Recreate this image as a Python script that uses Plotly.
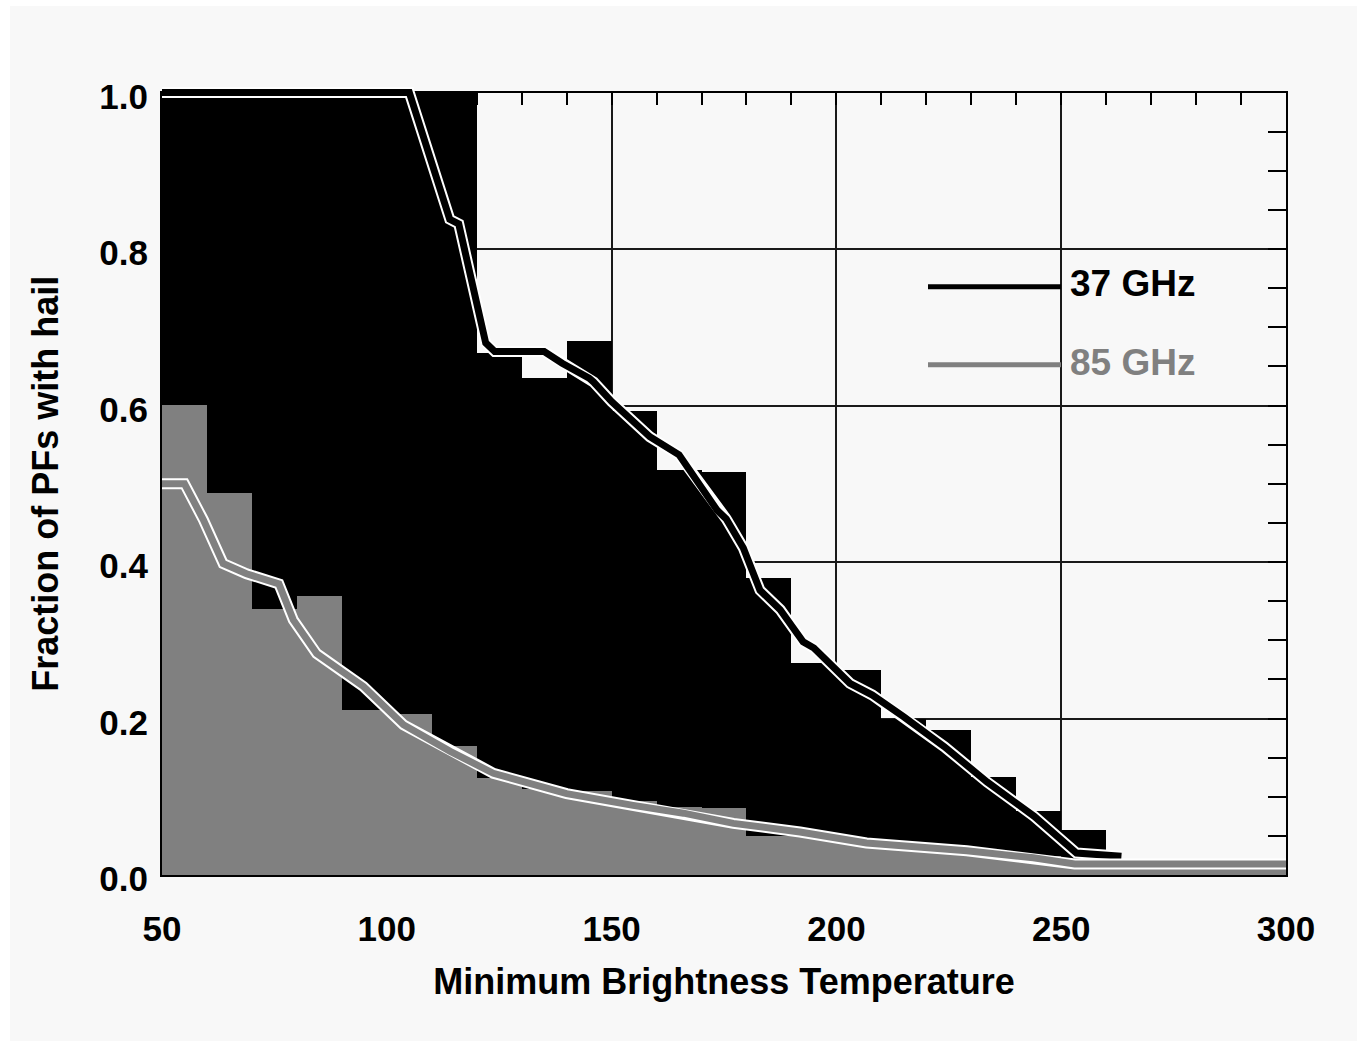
import plotly.graph_objects as go

# ---------------- data ----------------
bin_start = [50, 60, 70, 80, 90, 100, 110, 120, 130, 140, 150, 160, 170,
             180, 190, 200, 210, 220, 230, 240, 250, 260, 270, 280, 290]
bin_width = 10

hail_37 = [1.0, 1.0, 1.0, 1.0, 1.0, 1.0, 1.0, 0.668, 0.636, 0.683, 0.594, 0.518,
           0.516, 0.380, 0.271, 0.262, 0.200, 0.186, 0.126, 0.082, 0.058,
           0.0, 0.0, 0.0, 0.0]
hail_85 = [0.601, 0.489, 0.340, 0.357, 0.211, 0.207, 0.165, 0.124, 0.110, 0.108,
           0.095, 0.088, 0.086, 0.051, 0.050, 0.045, 0.040, 0.035, 0.030, 0.025,
           0.015, 0.010, 0.010, 0.010, 0.010]

curve37_tb = [50, 105, 114, 116, 122, 124, 135, 139, 145, 146, 150, 154.5, 158.5,
              165, 169, 173.5, 175.5, 179.3, 183, 187.5, 192.6, 195, 203, 208,
              215, 224, 233.5, 244, 253.4, 263.4]
curve37_frac = [1.0, 1.0, 0.838, 0.832, 0.680, 0.669, 0.669, 0.654, 0.635, 0.630,
                0.605, 0.580, 0.560, 0.537, 0.505, 0.466, 0.455, 0.418, 0.364,
                0.339, 0.298, 0.290, 0.245, 0.230, 0.202, 0.164, 0.119, 0.075,
                0.028, 0.024]

curve85_tb = [50, 55, 59.2, 63.6, 68.8, 74.8, 76, 79.2, 84.4, 89.6, 94.8, 103.7,
              114.1, 123.7, 140, 154.8, 166, 177.1, 191.9, 206.7, 229, 243.8,
              251.2, 253, 300]
curve85_frac = [0.500, 0.500, 0.454, 0.398, 0.385, 0.375, 0.372, 0.326, 0.283,
                0.262, 0.241, 0.192, 0.158, 0.130, 0.104, 0.089, 0.079, 0.066,
                0.055, 0.041, 0.031, 0.022, 0.015, 0.014, 0.014]

series_names = ["37 GHz", "85 GHz"]
x_title = "Minimum Brightness Temperature"
y_title = "Fraction of PFs with hail"

# ---------------- styling ----------------
BLACK = "#000000"
GRAY = "#808080"
BG = "#f8f8f8"
FONT = "Liberation Sans"
FS = 35

W, H = 1367, 1047
ML, MR, MT, MB = 162, 81, 82, 172
plot_h = H - MT - MB            # 793
main_h = 782.5                  # pixel height of the 0..1 y range
ydom_top = main_h / plot_h

fig = go.Figure()

fig.add_trace(go.Bar(x=bin_start, y=hail_37, width=bin_width, offset=0,
                     marker=dict(color=BLACK, line=dict(width=0)),
                     name=series_names[0], showlegend=False,
                     xaxis="x", yaxis="y"))
fig.add_trace(go.Bar(x=bin_start, y=hail_85, width=bin_width, offset=0,
                     marker=dict(color=GRAY, line=dict(width=0)),
                     name=series_names[1], showlegend=False,
                     xaxis="x", yaxis="y"))

# curves (white halo + coloured line) on an overlapping, slightly taller subplot
for xs, ys, col in [(curve37_tb, curve37_frac, BLACK),
                    (curve85_tb, curve85_frac, GRAY)]:
    fig.add_trace(go.Scatter(x=xs, y=ys, mode="lines",
                             line=dict(color="white", width=11),
                             showlegend=False, hoverinfo="skip",
                             xaxis="x2", yaxis="y2"))
    fig.add_trace(go.Scatter(x=xs, y=ys, mode="lines",
                             line=dict(color=col, width=7),
                             showlegend=False,
                             xaxis="x2", yaxis="y2"))

tickfont = dict(family=FONT, size=FS, color=BLACK, weight="bold")
titlefont = dict(family=FONT, size=36, color=BLACK, weight="bold")

fig.update_layout(
    width=W, height=H,
    margin=dict(l=ML, r=MR, t=MT, b=MB, pad=0),
    paper_bgcolor="white",
    plot_bgcolor="rgba(0,0,0,0)",
    barmode="overlay",
    bargap=0,
    showlegend=False,
    xaxis=dict(
        domain=[0, 1], anchor="y", range=[50, 300],
        tick0=50, dtick=50,
        showline=True, linecolor=BLACK, linewidth=2, mirror="ticks",
        ticks="inside", ticklen=12, tickwidth=2, tickcolor=BLACK,
        minor=dict(tick0=50, dtick=10, ticks="inside", ticklen=12,
                   tickwidth=2, tickcolor=BLACK, showgrid=False),
        showgrid=True, gridcolor="#1a1a1a", gridwidth=2,
        zeroline=False, layer="below traces",
        tickfont=tickfont, ticklabelstandoff=22,
        title=dict(text=x_title, font=titlefont, standoff=22),
        automargin=False, fixedrange=True,
    ),
    yaxis=dict(
        domain=[0, ydom_top], anchor="x", range=[0, 1],
        tick0=0, dtick=0.2, tickformat=".1f",
        showline=True, linecolor=BLACK, linewidth=2, mirror="ticks",
        ticks="inside", ticklen=18, tickwidth=2, tickcolor=BLACK,
        minor=dict(tick0=0, dtick=0.05, ticks="inside", ticklen=18,
                   tickwidth=2, tickcolor=BLACK, showgrid=False),
        showgrid=True, gridcolor="#1a1a1a", gridwidth=2,
        zeroline=False, layer="below traces",
        tickfont=tickfont, ticklabelstandoff=5, ticklabelshift=4,
        title=dict(text=y_title, font=titlefont, standoff=30),
        automargin=False, fixedrange=True,
    ),
    xaxis2=dict(domain=[0, 1], anchor="y2", range=[50, 300], visible=False,
                showgrid=False, zeroline=False, fixedrange=True),
    yaxis2=dict(domain=[0, 1], anchor="x2", range=[0, plot_h / main_h],
                visible=False, showgrid=False, zeroline=False, fixedrange=True),
)

# page background (light grey with thin white border)
def px_to_paper_x(px):
    return (px - ML) / (W - ML - MR)

def px_to_paper_y(py):
    return (H - MB - py) / plot_h

fig.add_shape(type="rect", xref="paper", yref="paper", layer="below",
              x0=px_to_paper_x(10), x1=px_to_paper_x(W - 10),
              y0=px_to_paper_y(H - 6), y1=px_to_paper_y(6),
              fillcolor=BG, line=dict(width=0))

# legend (drawn manually in the style of the original)
leg_items = [(series_names[0], BLACK, 0.7518, 0.7564),
             (series_names[1], GRAY, 0.652, 0.6552)]
for name, col, ly, ty in leg_items:
    fig.add_shape(type="line", xref="paper", yref="y domain",
                  x0=px_to_paper_x(928), x1=px_to_paper_x(1061), y0=ly, y1=ly,
                  line=dict(color=col, width=5))
    fig.add_annotation(text=name, xref="paper", yref="y domain",
                       x=px_to_paper_x(1068), y=ty, xanchor="left",
                       yanchor="middle", showarrow=False,
                       font=dict(family=FONT, size=37, color=col, weight="bold"))

fig.write_html("out.html")
